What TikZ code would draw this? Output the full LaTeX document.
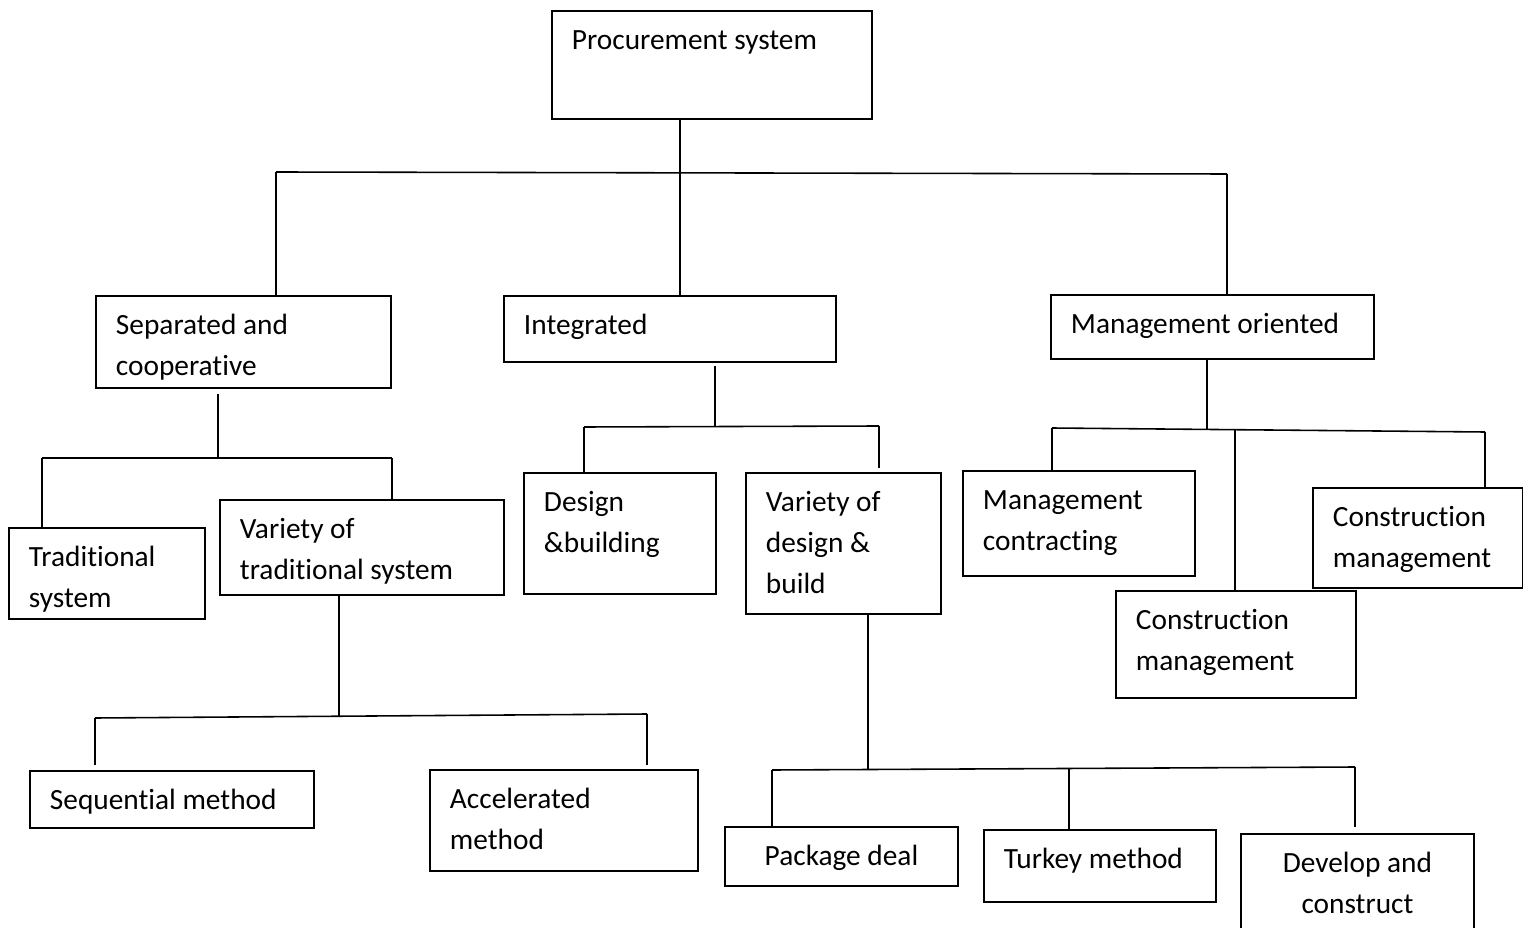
\documentclass[tikz,border=0pt]{standalone}
\usepackage{fontspec}
\setmainfont{Carlito}[Ligatures=NoCommon]
\usetikzlibrary{positioning,calc}

\newlength{\px}
\setlength{\px}{0.02cm}
% box text: width and height of the box in px, then the text
\newcommand{\boxtxt}[3]{\parbox[t][\dimexpr#2\px-20\px\relax][t]{\dimexpr#1\px-40\px\relax}{\raggedright\strut#3}}
\newcommand{\boxtxtc}[3]{\parbox[t][\dimexpr#2\px-20\px\relax][t]{\dimexpr#1\px-40\px\relax}{\centering\strut#3}}

\begin{document}
\begin{tikzpicture}[x=0.02cm,y=-0.02cm]

  \tikzset{
    box/.style={draw,line width=1.1pt,anchor=north west,inner xsep=0.4cm,inner ysep=0.2cm,
      font=\fontsize{16.7pt}{23.3pt}\selectfont},
    link/.style={line width=0.9pt},
  }

  \clip (0,0) rectangle (1523,928);

   \node[box] (proc) at (551,10) {\boxtxt{320}{108}{Procurement system}};

   \node[box] (sep) at (95,295) {\boxtxt{295}{92}{Separated and\\cooperative}};
   \node[box] (integ) at (503,295) {\boxtxt{332}{66}{Integrated}};
   \node[box] (mgmt) at (1050,294) {\boxtxt{323}{64}{Management oriented}};

   \coordinate (t0) at (680,172);
   \coordinate (tL) at (276,172);
   \coordinate (tR) at (1227,174);
   \draw[link] (t0 |- proc.south) -- (t0);
   \draw[link] (tL) -- (tR);
   \draw[link] (tL) -- (tL |- sep.north);
   \draw[link] (t0) -- (t0 |- integ.north);
   \draw[link] (tR) -- (tR |- mgmt.north);

   % SEPARATED

   \node[box] (trad) at (8,527) {\boxtxt{196}{91}{Traditional\\system}};
   \node[box] (vtrad) at (219,499) {\boxtxt{284}{95}{Variety of\\traditional system}};

   \coordinate (s0) at (218,458);
   \coordinate (sL) at (42,458);
   \coordinate (sR) at (392,458);
   \draw[link,shorten <=0.1cm] (s0 |- sep.south) -- (s0);
   \draw[link] (sL) -- (sR);
   \draw[link] (sL) -- (sL |- trad.north);
   \draw[link] (sR) -- (sR |- vtrad.north);

   \node[box] (seq) at (29,770) {\boxtxt{284}{57}{Sequential method}};
   \node[box] (accel) at (429,769) {\boxtxt{268}{101}{Accelerated\\method}};

   \coordinate (v0) at (339,716);
   \coordinate (vL) at (95,718);
   \coordinate (vR) at (647,714);
   \draw[link] (v0 |- vtrad.south) -- (v0);
   \draw[link] (vL) -- (vR);
   \draw[link,shorten >=0.1cm] (vL) -- (vL |- seq.north);
   \draw[link,shorten >=0.08cm] (vR) -- (vR |- accel.north);

   % INTEGRATED

   \node[box] (design) at (523,472) {\boxtxt{192}{121}{Design\\\&building}};
   \node[box] (vdb) at (745,472) {\boxtxt{195}{141}{Variety of\\design \&\\build}};

   \coordinate (i0) at (715,426);
   \coordinate (iL) at (584,427);
   \coordinate (iR) at (879,426);
   \draw[link,shorten <=0.06cm] (i0 |- integ.south) -- (i0);
   \draw[link] (iL) -- (iR);
   \draw[link] (iL) -- (iL |- design.north);
   \draw[link,shorten >=0.08cm] (iR) -- (iR |- vdb.north);

   \node[box] (pack) at (724,826) {\boxtxtc{233}{59}{Package deal}};
   \node[box] (turkey) at (983,829) {\boxtxt{232}{72}{Turkey method}};
   \node[box] (dev) at (1240,833) {\boxtxtc{233}{120}{Develop and\\construct}};

   \coordinate (d0) at (868,770);
   \coordinate (dL) at (772,770);
   \coordinate (dM) at (1069,769);
   \coordinate (dR) at (1355,767);
   \draw[link] (d0 |- vdb.south) -- (d0);
   \draw[link] (dL) -- (dR);
   \draw[link] (dL) -- (dL |- pack.north);
   \draw[link] (dM) -- (dM |- turkey.north);
   \draw[link,shorten >=0.12cm] (dR) -- (dR |- dev.north);

   % MANAGEMENT

   \node[box] (mcon) at (962,470) {\boxtxt{232}{105}{Management\\contracting}};
   \node[box] (cmR) at (1312,487) {\boxtxt{210}{100}{Construction\\management}};
   \node[box] (cmL) at (1115,590) {\boxtxt{240}{107}{Construction\\management}};

   \coordinate (m0) at (1207,429);
   \coordinate (mL) at (1052,428);
   \coordinate (mM) at (1235,430);
   \coordinate (mR) at (1485,432);
   \draw[link] (m0 |- mgmt.south) -- (m0);
   \draw[link] (mL) -- (mR);
   \draw[link] (mL) -- (mL |- mcon.north);
   \draw[link] (mM) -- (mM |- cmL.north);
   \draw[link] (mR) -- (mR |- cmR.north);

\end{tikzpicture}
\end{document}
